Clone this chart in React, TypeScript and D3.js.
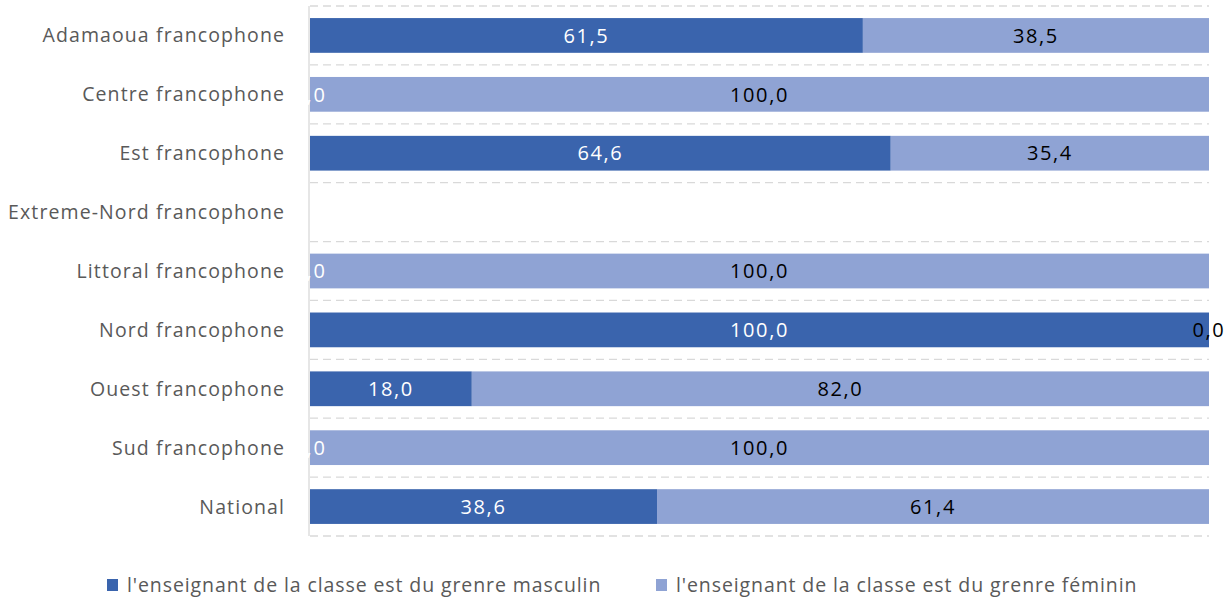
import React from "react";
import * as d3 from "d3";

const WIDTH = 1229;
const HEIGHT = 600;
const MARGIN = { top: 6, right: 20, bottom: 64, left: 310 };

const categories = [
  "Adamaoua francophone",
  "Centre francophone",
  "Est francophone",
  "Extreme-Nord francophone",
  "Littoral francophone",
  "Nord francophone",
  "Ouest francophone",
  "Sud francophone",
  "National",
];
const masculin = [61.5, 0, 64.6, null, 0, 100, 18.0, 0, 38.6];
const feminin = [38.5, 100, 35.4, null, 100, 0, 82.0, 100, 61.4];

const seriesNames = [
  "l'enseignant de la classe est du grenre masculin",
  "l'enseignant de la classe est du grenre féminin",
];
const colors = ["#3A64AD", "#8FA3D4"];
const labelColors = ["#ffffff", "#000000"];

const FONT = "'Open Sans', sans-serif";
const fmt = (v: number) => d3.format(".1f")(v).replace(".", ",");

export default function App() {
  const boundsWidth = WIDTH - MARGIN.left - MARGIN.right;
  const boundsHeight = HEIGHT - MARGIN.top - MARGIN.bottom;

  const yScale = d3
    .scaleBand<string>()
    .domain(categories)
    .range([0, boundsHeight])
    .paddingInner(0.41)
    .paddingOuter(0.205);
  const xScale = d3.scaleLinear().domain([0, 100]).range([0, boundsWidth]);

  const step = yScale.step();
  const rows = categories.map((c, i) => ({ cat: c, values: [masculin[i], feminin[i]] }));

  // gridlines sit at the boundaries between categories
  const gridYs = d3.range(categories.length + 1).map((i) => i * step);

  return (
    <svg
      width={WIDTH}
      height={HEIGHT}
      style={{ position: "absolute", left: 0, top: 0, background: "#fff" }}
    >
      <g transform={`translate(${MARGIN.left},${MARGIN.top})`}>
        {gridYs.map((y, i) => (
          <line
            key={i}
            x1={0}
            x2={boundsWidth}
            y1={y}
            y2={y}
            stroke="#d9d9d9"
            strokeWidth={1.3}
            strokeDasharray="8 5"
          />
        ))}
        <line x1={-1} x2={-1} y1={0} y2={boundsHeight} stroke="#d9d9d9" strokeWidth={1.3} />

        {rows.map((r) => {
          const y = yScale(r.cat) as number;
          let acc = 0;
          return (
            <g key={r.cat}>
              {r.values.map((v, si) => {
                if (v === null) return null;
                const x0 = xScale(acc);
                acc += v;
                const x1 = xScale(acc);
                return (
                  <rect key={si} x={x0} y={y} width={x1 - x0} height={yScale.bandwidth()} fill={colors[si]} />
                );
              })}
            </g>
          );
        })}

        {rows.map((r) => {
          const y = (yScale(r.cat) as number) + yScale.bandwidth() / 2;
          let acc = 0;
          return (
            <g key={r.cat + "-lbl"}>
              {r.values.map((v, si) => {
                if (v === null) return null;
                const x0 = xScale(acc);
                acc += v;
                const x1 = xScale(acc);
                return (
                  <text
                    key={si}
                    x={(x0 + x1) / 2}
                    y={y}
                    dy="0.36em"
                    textAnchor="middle"
                    fontFamily={FONT}
                    fontSize={20}
                    letterSpacing={1.6}
                    fill={labelColors[si]}
                  >
                    {fmt(v)}
                  </text>
                );
              })}
            </g>
          );
        })}

        {categories.map((c) => (
          <text
            key={c}
            x={-25}
            y={(yScale(c) as number) + yScale.bandwidth() / 2}
            dy="0.36em"
            textAnchor="end"
            fontFamily={FONT}
            fontSize={19.5}
            letterSpacing={1.1}
            fill="#595959"
          >
            {c}
          </text>
        ))}
      </g>

      <g transform={`translate(0, 585)`}>
        {seriesNames.map((s, i) => {
          const x = i === 0 ? 107 : 656;
          return (
            <g key={s} transform={`translate(${x},0)`}>
              <rect x={0} y={-6} width={11} height={12} fill={colors[i]} />
              <text
                x={20}
                y={0}
                dy="0.36em"
                fontFamily={FONT}
                fontSize={19.5}
                letterSpacing={0.9}
                fill="#595959"
              >
                {s}
              </text>
            </g>
          );
        })}
      </g>
    </svg>
  );
}
